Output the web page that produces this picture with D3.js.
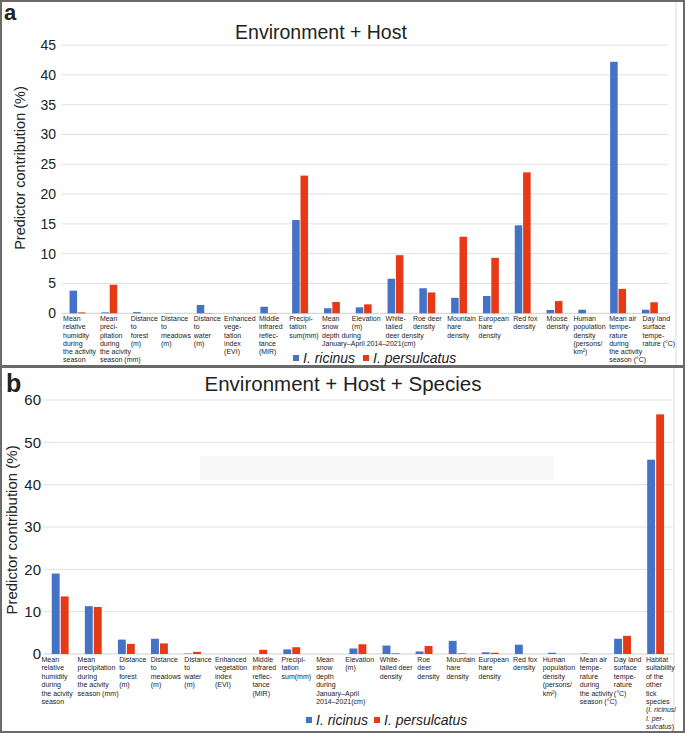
<!DOCTYPE html>
<html><head><meta charset="utf-8">
<script src="https://cdn.jsdelivr.net/npm/d3@7"></script>
<style>
body{margin:0;background:#fff}
svg{display:block}
text{font-family:Arial,"Liberation Sans",Helvetica,sans-serif;fill:#222}
</style>
</head><body>
<svg id="chart" width="685" height="733"></svg>
<script>
// ---------- DATA ----------
const seriesNames = ["I. ricinus", "I. persulcatus"];
const seriesColors = ["#4472c4", "#e63a16"];

const categoriesA = [
  ["Mean","relative","humidity","during","the activity","season"],
  ["Mean","preci-","pitation","during","the acivity","season (mm)"],
  ["Distance","to","forest","(m)"],
  ["Distance","to","meadows","(m)"],
  ["Distance","to","water","(m)"],
  ["Enhanced","vege-","tation","index","(EVI)"],
  ["Middle","infrared","reflec-","tance","(MIR)"],
  ["Precipi-","tation","sum(mm)"],
  ["Mean","snow","depth during","January–April 2014–2021(cm)"],
  ["Elevation","(m)"],
  ["White-","tailed","deer density"],
  ["Roe deer","density"],
  ["Mountain","hare","density"],
  ["European","hare","density"],
  ["Red fox","density"],
  ["Moose","density"],
  ["Human","population","density","(persons/","km²)"],
  ["Mean air","tempe-","rature","during","the activity","season (°C)"],
  ["Day land","surface","tempe-","rature (°C)"]
];
const ricinusA     = [3.8, 0.15, 0.2, 0.05, 1.4, 0, 1.1, 15.65, 0.85, 1.0, 5.8, 4.2, 2.6, 2.9, 14.75, 0.55, 0.6, 42.2, 0.6];
const persulcatusA = [0.15, 4.8, 0, 0, 0.05, 0, 0.05, 23.1, 1.9, 1.5, 9.75, 3.5, 12.85, 9.3, 23.65, 2.05, 0, 4.1, 1.85];
const ticksA = [0, 5, 10, 15, 20, 25, 30, 35, 40, 45];

const categoriesB = [
  ["Mean","relative","humidity","during","the acivity","season"],
  ["Mean","precipitation","during","the acivity","season (mm)"],
  ["Distance","to","forest","(m)"],
  ["Distance","to","meadows","(m)"],
  ["Distance","to","water","(m)"],
  ["Enhanced","vegetation","index","(EVI)"],
  ["Middle","infrared","reflec-","tance","(MIR)"],
  ["Precipi-","tation","sum(mm)"],
  ["Mean","snow","depth","during","January–April","2014–2021(cm)"],
  ["Elevation","(m)"],
  ["White-","tailed deer","density"],
  ["Roe","deer","density"],
  ["Mountain","hare","density"],
  ["European","hare","density"],
  ["Red fox","density"],
  ["Human","population","density","(persons/","km²)"],
  ["Mean air","tempe-","rature","during","the activity","season (°C)"],
  ["Day land","surface","tempe-","rature","(°C)"],
  ["Habitat","suitability","of the","other","tick","species","(<i>I. ricinus</i>/","<i>I. per-</i>","<i>sulcatus</i>)"]
];
const ricinusB     = [19.0, 11.3, 3.4, 3.6, 0.1, 0, 0, 1.1, 0, 1.3, 2.0, 0.6, 3.1, 0.4, 2.2, 0.3, 0.1, 3.6, 45.9];
const persulcatusB = [13.6, 11.1, 2.4, 2.5, 0.5, 0, 1.0, 1.6, 0, 2.3, 0.15, 1.9, 0.15, 0.3, 0, 0, 0, 4.3, 56.6];
const ticksB = [0, 10, 20, 30, 40, 50, 60];

// ---------- LAYOUT (label indents within each category band, px) ----------
const labelIndentA = [1.5, 6.5, 5.5, 4, 5, 3.5, 6.5, 5, 6, 4, 6, 1.5, 4, 3.5, 6.5, 8, 3, 7, 8.5];
const labelIndentB = [-2, 1, 9.5, 8, 8.5, 6, 10.5, 6.5, 8, 4, 5.5, 10, 6, 5, 6.5, 3, 7, 8, 7];

// ---------- DRAW ----------
const svg = d3.select("#chart");

function addRich(textSel, str) {
  const parts = str.split(/(<i>.*?<\/i>)/).filter(s => s.length);
  parts.forEach(p => {
    const m = p.match(/^<i>(.*)<\/i>$/);
    textSel.append("tspan").attr("font-style", m ? "italic" : "normal").text(m ? m[1] : p);
  });
}

function drawPanel(cfg) {
  const g = svg.append("g");
  const x = d3.scaleBand().domain(d3.range(cfg.cats.length)).range(cfg.xRange).paddingInner(0).paddingOuter(0);
  const bw = x.bandwidth();
  const xs = d3.scaleBand().domain([0, 1]).range([bw * cfg.sub[0], bw * cfg.sub[1]]).paddingInner(cfg.subPad);
  const y = d3.scaleLinear().domain(cfg.yDomain).range(cfg.yRange);

  // gridlines
  g.append("g").selectAll("line").data(cfg.ticks).join("line")
    .attr("x1", cfg.xRange[0]).attr("x2", cfg.gridEnd)
    .attr("y1", d => y(d)).attr("y2", d => y(d))
    .attr("stroke", d => d === 0 ? "#cfcfcf" : "#e0e0e0").attr("stroke-width", 1);

  // y tick labels via axis
  const yAxis = d3.axisLeft(y).tickValues(cfg.ticks).tickSize(0).tickPadding(0).tickFormat(d3.format("d"));
  const ag = g.append("g").attr("transform", `translate(${cfg.tickRight},0)`).call(yAxis);
  ag.select(".domain").remove();
  ag.selectAll("text").attr("font-size", cfg.tickSize).attr("fill", "#222")
    .attr("font-family", "Arial, 'Liberation Sans', sans-serif");

  // bars
  const seriesData = [cfg.s0, cfg.s1];
  seriesData.forEach((vals, si) => {
    g.append("g").selectAll("rect").data(vals).join("rect")
      .attr("x", (d, i) => x(i) + xs(si))
      .attr("width", xs.bandwidth())
      .attr("y", d => y(d))
      .attr("height", d => y(0) - y(d))
      .attr("fill", seriesColors[si]);
  });

  // category labels (slightly condensed, left-aligned)
  const lg = g.append("g");
  cfg.cats.forEach((lines, i) => {
    const t = lg.append("text")
      .attr("transform", `translate(${x(i) + cfg.indent[i]},${cfg.labelY}) scale(${cfg.labelScale},1)`)
      .attr("font-size", cfg.labelSize)
      .attr("fill", "#333");
    lines.forEach((ln, li) => {
      const ts = t.append("tspan").attr("x", 0).attr("y", li * cfg.lineH);
      addRich(ts, ln);
    });
  });

  // title
  g.append("text").attr("x", cfg.titleX).attr("y", cfg.titleY).attr("text-anchor", "middle")
    .attr("font-size", cfg.titleSize).attr("fill", "#222").text(cfg.title);

  // y-axis title
  g.append("text").attr("transform", `translate(${cfg.yTitleX},${cfg.yTitleY}) rotate(-90)`)
    .attr("text-anchor", "middle").attr("font-size", cfg.yTitleSize).attr("fill", "#222")
    .text("Predictor contribution (%)");

  // panel letter
  g.append("text").attr("x", cfg.letterX).attr("y", cfg.letterY).attr("font-size", cfg.letterSize)
    .attr("font-weight", "bold").attr("fill", "#111").text(cfg.letter);

  // legend
  const leg = g.append("g");
  cfg.legend.forEach((lx, si) => {
    leg.append("rect").attr("x", lx).attr("y", cfg.legendY - 8).attr("width", 6).attr("height", 6)
      .attr("fill", seriesColors[si]);
    leg.append("text").attr("x", lx + 10).attr("y", cfg.legendY).attr("font-size", cfg.legendSize)
      .attr("font-style", "italic").attr("fill", "#222").text(seriesNames[si]);
  });
}

// frames
svg.append("rect").attr("x", 1).attr("y", 1).attr("width", 683).attr("height", 365)
  .attr("fill", "none").attr("stroke", "#6a6a6a").attr("stroke-width", 2);
svg.append("rect").attr("x", 1).attr("y", 367).attr("width", 683).attr("height", 365)
  .attr("fill", "none").attr("stroke", "#6a6a6a").attr("stroke-width", 2);
svg.append("line").attr("x1", 676).attr("x2", 676).attr("y1", 2).attr("y2", 365).attr("stroke", "#dcdcdc");
svg.append("line").attr("x1", 674).attr("x2", 674).attr("y1", 368).attr("y2", 731).attr("stroke", "#dcdcdc");
// faint artifact band in panel b
svg.append("rect").attr("x", 200).attr("y", 456).attr("width", 354).attr("height", 24).attr("fill", "#f9f9f9");

drawPanel({
  cats: categoriesA, s0: ricinusA, s1: persulcatusA, ticks: ticksA, indent: labelIndentA,
  xRange: [61.6, 665.8], gridEnd: 668, yDomain: [0, 45], yRange: [313.3, 45.1],
  sub: [0.25, 0.75], subPad: 0.1,
  tickRight: 56, tickSize: 14,
  labelY: 321, lineH: 8.3, labelSize: 7.6, labelScale: 0.92,
  title: "Environment + Host", titleX: 321, titleY: 39, titleSize: 19.5,
  yTitleX: 25, yTitleY: 168, yTitleSize: 14.5,
  letter: "a", letterX: 4, letterY: 20, letterSize: 22,
  legend: [293, 363], legendY: 363, legendSize: 14
});

drawPanel({
  cats: categoriesB, s0: ricinusB, s1: persulcatusB, ticks: ticksB, indent: labelIndentB,
  xRange: [43.5, 672], gridEnd: 673, yDomain: [0, 60], yRange: [654, 400],
  sub: [0.25, 0.76], subPad: 0.12,
  tickRight: 41, tickSize: 15,
  labelY: 662, lineH: 8.4, labelSize: 7.8, labelScale: 0.9,
  title: "Environment + Host + Species", titleX: 343, titleY: 391, titleSize: 20.5,
  yTitleX: 17, yTitleY: 530, yTitleSize: 15,
  letter: "b", letterX: 6, letterY: 392, letterSize: 25,
  legend: [306, 374], legendY: 725, legendSize: 14
});
</script>
</body></html>
